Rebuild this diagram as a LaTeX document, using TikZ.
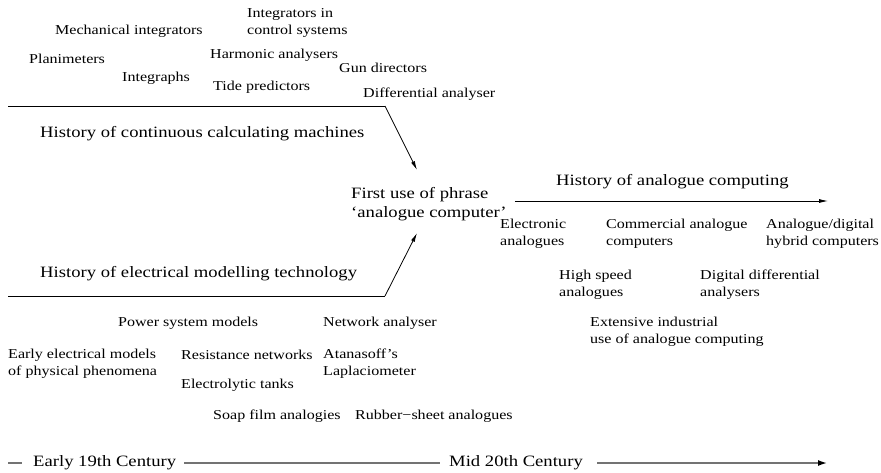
\documentclass[tikz,border=0pt]{standalone}
\usepackage{fontspec}
\setmainfont[FakeStretch=1.18]{Liberation Serif}
\usetikzlibrary{arrows.meta}
\begin{document}
\begin{tikzpicture}[x=1pt,y=-1pt,
  small/.style={inner sep=0pt,anchor=west,align=left,
    font=\fontsize{13.6}{17}\selectfont},
  big/.style={inner sep=0pt,anchor=west,align=left,
    font=\fontsize{15.8}{19}\selectfont},
  flow/.style={line width=0.8pt,-{Latex[length=9pt,width=4pt]}},
  timeline/.style={line width=1.5pt,draw=black!55},
]
\useasboundingbox (0,0) rectangle (881,472);

% continuous calculating machines
\node[small] (mech) at (55,31) {Mechanical integrators};
\node[small] (ctrl) at (247,22.5) {Integrators in\\control systems};
\node[small] (plan) at (29,59) {Planimeters};
\node[small] (harm) at (210,55) {Harmonic analysers};
\node[small] (integ) at (122,78) {Integraphs};
\node[small] (gun) at (339,68) {Gun directors};
\node[small] (tide) at (213,87) {Tide predictors};
\node[small] (diff) at (363,94) {Differential analyser};
\node[big] (hcont) at (40,134) {History of continuous calculating machines};

% central node and analogue computing
\node[big] (first) at (351,204.5) {First use of phrase\\`analogue computer'};
\node[big] (hanal) at (556,182) {History of analogue computing};
\node[small] (elec) at (500,233.5) {Electronic\\analogues};
\node[small] (comm) at (606,233.5) {Commercial analogue\\computers};
\node[small] (hyb) at (766,233.5) {Analogue/digital\\hybrid computers};
\node[small] (hspd) at (559,284.5) {High speed\\analogues};
\node[small] (ddiff) at (700,284.5) {Digital differential\\analysers};
\node[small] (ext) at (590,331.5) {Extensive industrial\\use of analogue computing};

% electrical modelling technology
\node[big] (helec) at (40,274) {History of electrical modelling technology};
\node[small] (power) at (118,323) {Power system models};
\node[small] (netw) at (323,323) {Network analyser};
\node[small] (early) at (8,363.5) {Early electrical models\\of physical phenomena};
\node[small] (resis) at (181,355) {Resistance networks};
\node[small] (atan) at (323,363.5) {Atanasoff's\\Laplaciometer};
\node[small] (tanks) at (181,385) {Electrolytic tanks};
\node[small] (soap) at (213,416) {Soap film analogies};
\node[small] (rubber) at (355,416) {Rubber\textminus sheet analogues};

% streams feeding the central node
\coordinate (topstart) at (8,106);
\coordinate (topbend) at (385,106);
\coordinate (toptip) at (417,170);
\coordinate (botstart) at (8,296);
\coordinate (botbend) at (385,296);
\coordinate (bottip) at (417,233);
\coordinate (righttip) at (828,201);
\draw[line width=0.8pt] (topstart) -- (topbend);
\draw[flow] (topbend) -- (toptip);
\draw[line width=0.8pt] (botstart) -- (botbend);
\draw[flow] (botbend) -- (bottip);
\draw[flow] (first.east |- righttip) ++(8,0) coordinate (rightstart) -- (righttip);

% time axis
\node[big] (t19) at (33,463) {Early 19th Century};
\node[big] (t20) at (449,463) {Mid 20th Century};
\coordinate (tstart) at (8,463);
\coordinate (tend) at (827,463);
\draw[timeline] (tstart) -- ([xshift=-11pt]t19.west);
\draw[timeline] ([xshift=8pt]t19.east) -- ([xshift=-9pt]t20.west);
\draw[timeline,-{Latex[length=9pt,width=6pt,color=black]}] ([xshift=14pt]t20.east) -- (tend);
\end{tikzpicture}
\end{document}
